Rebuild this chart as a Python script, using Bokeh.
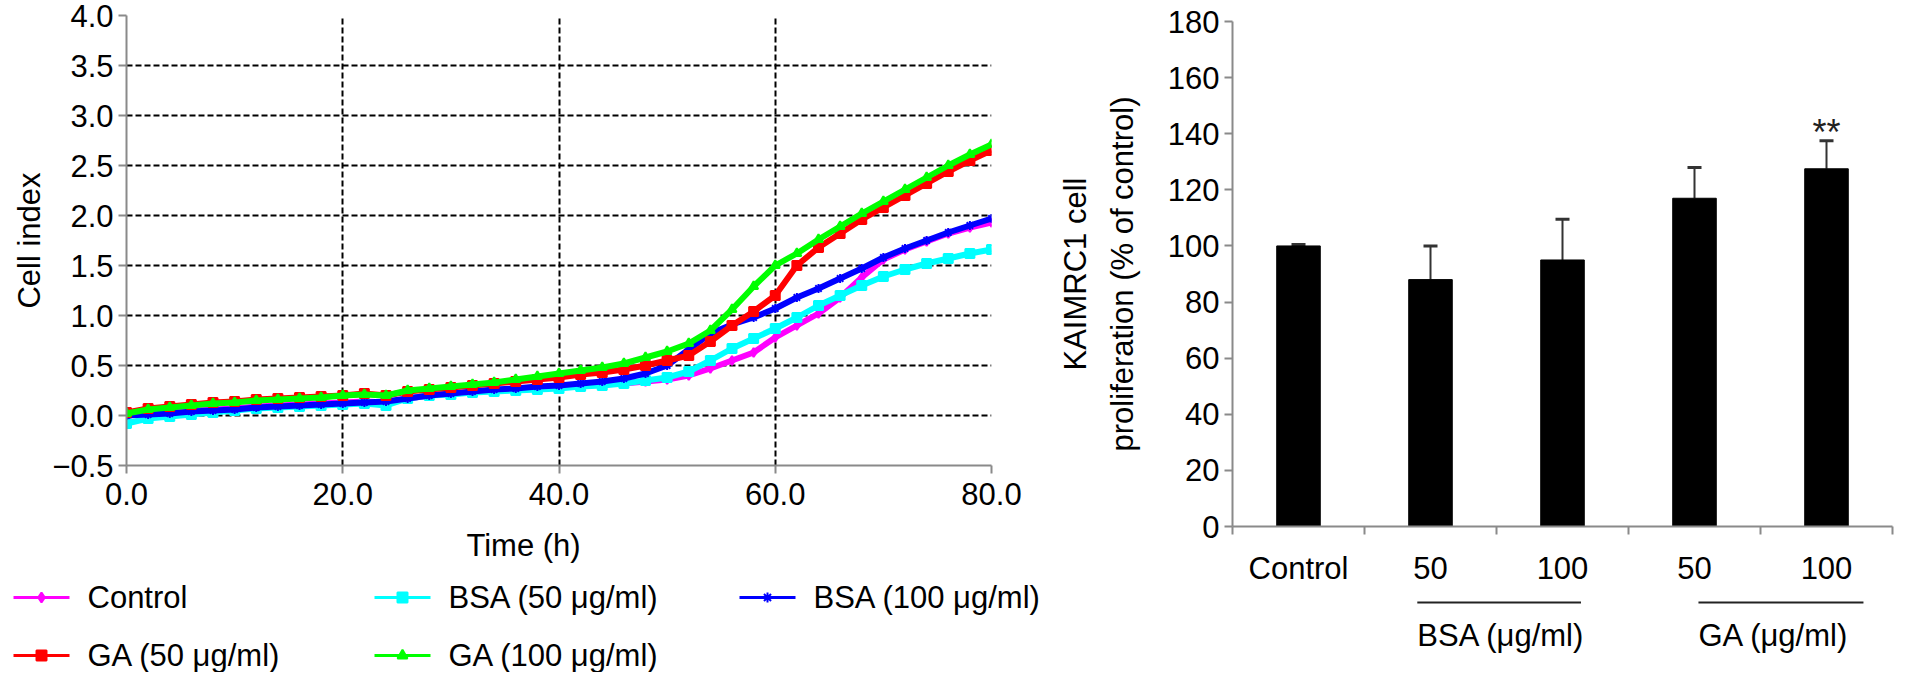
from bokeh.plotting import figure
from bokeh.models import (Range1d, FixedTicker, Whisker, TeeHead, ColumnDataSource)
from bokeh.layouts import row, column
from bokeh.core.properties import value
from bokeh.embed import file_html
from bokeh.resources import INLINE

FONT = "Liberation Sans"

# ---- left chart: cell index over time ----
time_h = [0, 2, 4, 6, 8, 10, 12, 14, 16, 18, 20, 22, 24, 26, 28, 30, 32, 34, 36, 38, 40,
          42, 44, 46, 48, 50, 52, 54, 56, 58, 60, 62, 64, 66, 68, 70, 72, 74, 76, 78, 80]
control = [0.02, 0.03, 0.04, 0.05, 0.06, 0.07, 0.09, 0.10, 0.11, 0.12, 0.13, 0.14, 0.13,
           0.17, 0.20, 0.22, 0.23, 0.25, 0.26, 0.27, 0.28, 0.30, 0.31, 0.32, 0.34, 0.36,
           0.40, 0.47, 0.55, 0.63, 0.78, 0.90, 1.02, 1.18, 1.38, 1.56, 1.66, 1.74, 1.82,
           1.88, 1.93]
bsa_50 = [-0.08, -0.03, -0.01, 0.01, 0.03, 0.05, 0.07, 0.08, 0.09, 0.10, 0.11, 0.12, 0.10,
          0.17, 0.20, 0.21, 0.23, 0.24, 0.25, 0.26, 0.27, 0.29, 0.30, 0.32, 0.35, 0.38,
          0.44, 0.55, 0.67, 0.77, 0.87, 0.98, 1.10, 1.20, 1.30, 1.39, 1.46, 1.52, 1.57,
          1.62, 1.66]
bsa_100 = [0.00, 0.01, 0.02, 0.04, 0.05, 0.06, 0.08, 0.09, 0.10, 0.11, 0.12, 0.13, 0.14,
           0.17, 0.20, 0.22, 0.24, 0.26, 0.27, 0.29, 0.30, 0.32, 0.34, 0.37, 0.42, 0.50,
           0.66, 0.82, 0.91, 0.98, 1.07, 1.18, 1.27, 1.37, 1.47, 1.58, 1.67, 1.75, 1.83,
           1.90, 1.97]
ga_50 = [0.03, 0.07, 0.09, 0.11, 0.13, 0.14, 0.16, 0.17, 0.18, 0.19, 0.20, 0.22, 0.20,
         0.24, 0.26, 0.28, 0.30, 0.32, 0.34, 0.36, 0.38, 0.41, 0.43, 0.46, 0.50, 0.55,
         0.60, 0.74, 0.90, 1.04, 1.20, 1.50, 1.68, 1.82, 1.96, 2.08, 2.20, 2.32, 2.44,
         2.55, 2.65]
ga_100 = [0.02, 0.06, 0.08, 0.10, 0.12, 0.13, 0.15, 0.16, 0.17, 0.18, 0.20, 0.21, 0.20,
          0.25, 0.27, 0.29, 0.31, 0.33, 0.36, 0.39, 0.42, 0.45, 0.48, 0.52, 0.58, 0.64,
          0.72, 0.85, 1.06, 1.29, 1.50, 1.62, 1.76, 1.89, 2.02, 2.14, 2.26, 2.38, 2.50,
          2.61, 2.71]

series_names = ["Control", "BSA (50 μg/ml)", "BSA (100 μg/ml)", "GA (50 μg/ml)", "GA (100 μg/ml)"]
series_values = [control, bsa_50, bsa_100, ga_50, ga_100]
series_colors = ["#ff00ff", "#00ffff", "#0000ff", "#ff0000", "#00ff00"]
series_markers = ["diamond", "square", "asterisk", "square", "triangle"]

x_ticks = [0, 20, 40, 60, 80]
x_tick_labels = ["0.0", "20.0", "40.0", "60.0", "80.0"]
y_ticks = [-0.5, 0.0, 0.5, 1.0, 1.5, 2.0, 2.5, 3.0, 3.5, 4.0]
y_tick_labels = ["\u22120.5", "0.0", "0.5", "1.0", "1.5", "2.0", "2.5", "3.0", "3.5", "4.0"]

# ---- right chart: proliferation bars ----
categories = ["Control", "50", "100", "50", "100"]
means = [100, 88, 95, 117, 127.5]
errors = [0.5, 12, 14.5, 11, 10]
significance = ["", "", "", "", "**"]
groups = ["BSA (μg/ml)", "GA (μg/ml)"]
group_start = [1.40, 3.53]
group_end = [2.64, 4.78]
bar_ticks = [0, 20, 40, 60, 80, 100, 120, 140, 160, 180]

AXIS_GRAY = "#8a8a8a"
common = dict(output_backend="svg", toolbar_location=None, outline_line_color=None)


def style_axis(ax, size="31px"):
    ax.axis_line_color = AXIS_GRAY
    ax.axis_line_width = 2
    ax.major_tick_line_color = AXIS_GRAY
    ax.major_tick_line_width = 2
    ax.major_tick_in = 0
    ax.major_tick_out = 8
    ax.minor_tick_line_color = None
    ax.major_label_text_font = FONT
    ax.major_label_text_font_size = size
    ax.major_label_text_color = "black"
    ax.axis_label_text_font = FONT
    ax.axis_label_text_font_size = size
    ax.axis_label_text_font_style = "normal"
    ax.axis_label_text_color = "black"


def blank(fig):
    fig.grid.visible = False
    return fig


# left line chart
p1 = figure(x_range=Range1d(0, 80), y_range=Range1d(-0.5, 4.0),
            frame_width=865, frame_height=450,
            min_border_left=79, min_border_right=49, min_border_top=15, min_border_bottom=60,
            **common)
p1.xaxis.ticker = FixedTicker(ticks=x_ticks)
p1.xaxis.major_label_overrides = dict(zip(x_ticks, x_tick_labels))
p1.yaxis.ticker = FixedTicker(ticks=y_ticks)
p1.yaxis.major_label_overrides = dict(zip(y_ticks, y_tick_labels))
style_axis(p1.xaxis[0])
style_axis(p1.yaxis[0])
p1.xaxis.major_label_standoff = 9
p1.yaxis.major_label_standoff = 5

p1.xgrid.ticker = FixedTicker(ticks=x_ticks[1:])
p1.ygrid.ticker = FixedTicker(ticks=y_ticks[1:])
for g in (p1.xgrid[0], p1.ygrid[0]):
    g.grid_line_color = "black"
    g.grid_line_width = 2
    g.grid_line_dash = "6 3"

for name, vals, col, mk in zip(series_names, series_values, series_colors, series_markers):
    p1.line(time_h, vals, line_color=col, line_width=6)
    p1.scatter(time_h, vals, marker=mk, size=9, color=col, line_width=2)

# y title strip: an empty axis carrying only the title, close to the tick labels
ptitle = blank(figure(x_range=Range1d(0, 1), y_range=Range1d(0, 1), frame_width=1,
                      frame_height=450, min_border_left=46, min_border_right=0,
                      min_border_top=15, min_border_bottom=60,
                      x_axis_type=None, y_axis_label="Cell index", **common))
style_axis(ptitle.yaxis[0])
ptitle.yaxis.ticker = FixedTicker(ticks=[])
ptitle.yaxis.axis_line_color = None
ptitle.yaxis.major_tick_line_color = None
ptitle.yaxis.major_tick_out = 0
ptitle.yaxis.major_label_standoff = 0
ptitle.yaxis.axis_label_standoff = 0

# x title and legend strip under the line chart (pixel units, top-down)
pleg = blank(figure(x_range=Range1d(0, 1040), y_range=Range1d(147, 0), frame_width=1040,
                    frame_height=147, min_border=0,
                    x_axis_type=None, y_axis_type=None, **common))
pleg.text(x=[523], y=[20], text=["Time (h)"], text_align="center", text_baseline="middle",
          text_font=value(FONT), text_font_size="31px", text_color="black")

leg_col_x = [13, 374, 739]
leg_row_y = [72, 130]
leg_x = [leg_col_x[i % 3] for i in range(len(series_names))]
leg_y = [leg_row_y[i // 3] for i in range(len(series_names))]
pleg.segment(x0=leg_x, x1=[x + 56 for x in leg_x], y0=leg_y, y1=leg_y,
             line_color=series_colors, line_width=3)
pleg.scatter(x=[x + 28 for x in leg_x], y=leg_y, marker=series_markers, size=10,
             color=series_colors, line_width=2)
pleg.text(x=[x + 74 for x in leg_x], y=leg_y, text=series_names, text_align="left",
          text_baseline="middle", text_font=value(FONT), text_font_size="31px",
          text_color="black")

# right bar chart
centers = [i + 0.5 for i in range(len(categories))]
upper = [m + e for m, e in zip(means, errors)]
bars = ColumnDataSource(dict(x=centers, top=means, upper=upper))

p2 = blank(figure(x_range=Range1d(0, len(categories)), y_range=Range1d(0, 180),
                  frame_width=660, frame_height=505,
                  min_border_left=192, min_border_right=5, min_border_top=21,
                  min_border_bottom=48,
                  y_axis_label="KAIMRC1 cell\nproliferation (% of control)", **common))
p2.vbar(x="x", top="top", width=0.33, source=bars, color="black")
p2.add_layout(Whisker(source=bars, base="x", lower="top", upper="upper",
                      line_color="#333333", line_width=2, lower_head=None,
                      upper_head=TeeHead(size=14, line_color="#333333", line_width=3)))
p2.text(x=centers, y=[u + 3 for u in upper], text=significance, text_align="center",
        text_baseline="alphabetic", text_font=value(FONT), text_font_size="36px",
        text_color="#222222")

style_axis(p2.xaxis[0])
style_axis(p2.yaxis[0])
p2.xaxis.ticker = FixedTicker(ticks=centers, minor_ticks=list(range(len(categories) + 1)))
p2.xaxis.major_label_overrides = dict(zip(centers, categories))
p2.xaxis.major_tick_out = 0
p2.xaxis.minor_tick_line_color = AXIS_GRAY
p2.xaxis.minor_tick_line_width = 2
p2.xaxis.minor_tick_in = 0
p2.xaxis.minor_tick_out = 8
p2.xaxis.major_label_standoff = 16
p2.yaxis.ticker = FixedTicker(ticks=bar_ticks)
p2.yaxis.major_label_standoff = 5
p2.yaxis.axis_label_standoff = 25
p2.yaxis.axis_label_text_line_height = 1.35

# group brackets under the bar chart
p3 = blank(figure(x_range=p2.x_range, y_range=Range1d(98, 0), frame_width=660,
                  frame_height=98, min_border_left=192, min_border_right=5,
                  min_border_top=0, min_border_bottom=0,
                  x_axis_type=None, y_axis_type=None, **common))
p3.segment(x0=group_start, x1=group_end, y0=[14] * len(groups), y1=[14] * len(groups),
           line_color="#222222", line_width=2)
p3.text(x=group_start, y=[47] * len(groups), text=groups, text_align="left",
        text_baseline="middle", text_font=value(FONT), text_font_size="31px",
        text_color="black")

layout = row(column(row(ptitle, p1), pleg), column(p2, p3))
open("out.html", "w").write(file_html(layout, INLINE))
